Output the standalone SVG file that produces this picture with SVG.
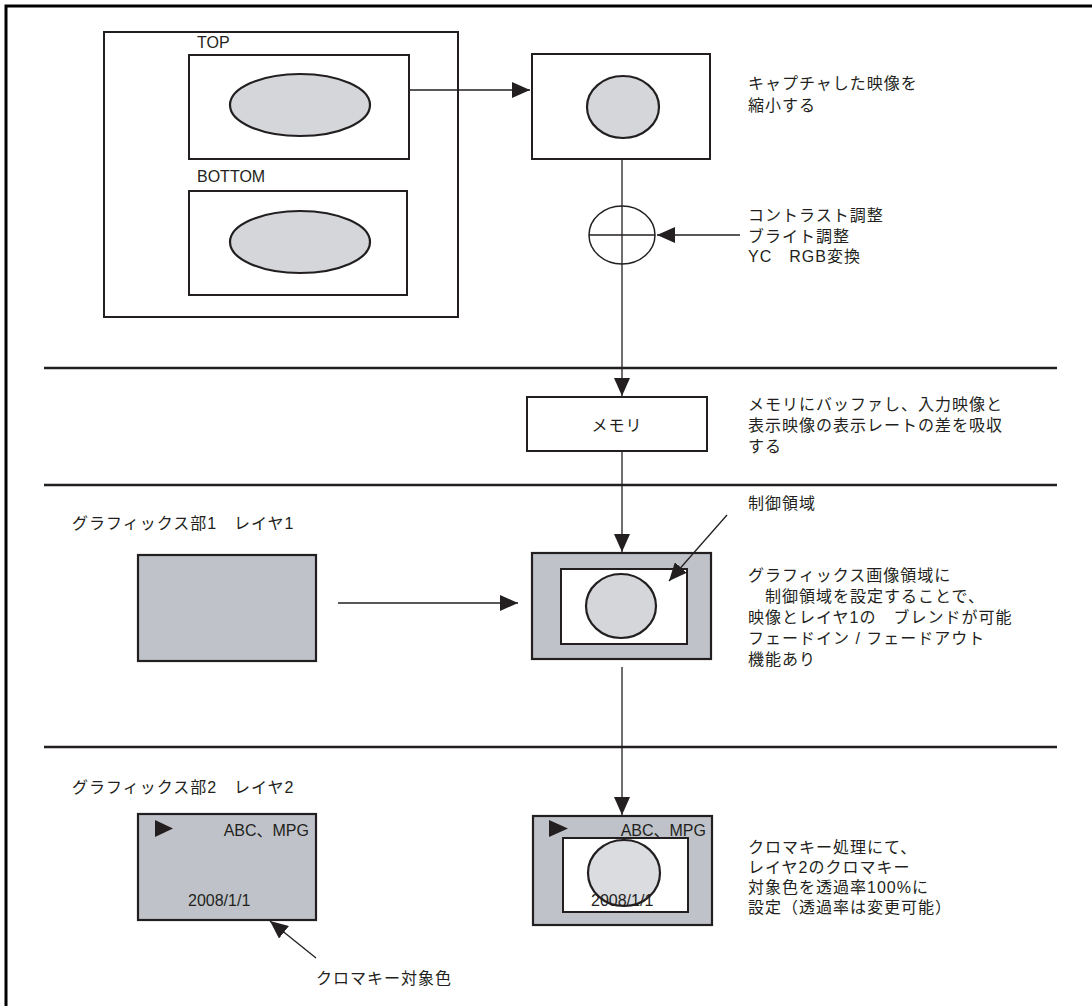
<svg xmlns="http://www.w3.org/2000/svg" width="1092" height="1006" viewBox="0 0 1092 1006">
<style>
text{font-family:"Liberation Sans","Noto Sans CJK JP",sans-serif;font-size:16px;fill:#231f20;letter-spacing:1px}
.lat{letter-spacing:0}
.box{fill:#fff;stroke:#231f20;stroke-width:2}
.gbox{fill:#bfc3c9;stroke:#231f20;stroke-width:2.2}
.ell{fill:#d4d6da;stroke:#231f20;stroke-width:2.2}
.sep{stroke:#231f20;stroke-width:2.5}
.con{fill:none;stroke:#231f20;stroke-width:1.3}
</style>
<defs>
<marker id="ah" viewBox="0 0 18 16" refX="18" refY="8" markerWidth="18" markerHeight="16" markerUnits="userSpaceOnUse" orient="auto">
<path d="M0,0 L18,8 L0,16 Z" fill="#231f20"/>
</marker>
</defs>
<rect width="1092" height="1006" fill="#fff"/>
<path d="M6,1006 V6 H1092" fill="none" stroke="#000" stroke-width="3"/>
<g id="separators">
<line class="sep" x1="44" y1="368" x2="1057" y2="368"/>
<line class="sep" x1="44" y1="485" x2="1057" y2="485"/>
<line class="sep" x1="44" y1="747" x2="1057" y2="747"/>
</g>
<g id="capture">
<rect class="box" x="104" y="32" width="354" height="285"/>
<text class="lat" x="197" y="48">TOP</text>
<rect class="box" x="189" y="55" width="220" height="104"/>
<ellipse class="ell" cx="300" cy="105" rx="70" ry="31"/>
<text class="lat" x="197" y="182">BOTTOM</text>
<rect class="box" x="189" y="191" width="218" height="104"/>
<ellipse class="ell" cx="300" cy="242" rx="70" ry="31"/>
</g>
<g id="scaled">
<rect class="box" x="532" y="54" width="178" height="105"/>
<ellipse class="ell" cx="623" cy="107" rx="36" ry="31"/>
</g>
<g id="adjust">
<ellipse cx="622" cy="235" rx="33" ry="29" fill="none" stroke="#231f20" stroke-width="1.5"/>
<line x1="589" y1="235" x2="655" y2="235" stroke="#231f20" stroke-width="1.3"/>
</g>
<g id="memory">
<rect class="box" x="527" y="397" width="180" height="54"/>
<text x="617" y="431" text-anchor="middle">メモリ</text>
</g>
<g id="layer1">
<rect class="gbox" x="138" y="555" width="178" height="106"/>
</g>
<g id="blend">
<rect class="gbox" x="532" y="553" width="179" height="106"/>
<rect class="box" x="561" y="569" width="126" height="75"/>
<ellipse class="ell" cx="621" cy="606" rx="35" ry="32"/>
</g>
<g id="layer2">
<rect class="gbox" x="138" y="814" width="178" height="106"/>
<path d="M155,820 L173,828.5 L155,837 Z" fill="#231f20"/>
<text class="lat" x="309" y="836" text-anchor="end">ABC、MPG</text>
<text class="lat" x="188" y="906">2008/1/1</text>
</g>
<g id="chroma">
<rect class="gbox" x="533" y="816" width="179" height="109"/>
<path d="M549,820 L568,828.5 L549,837 Z" fill="#231f20"/>
<text class="lat" x="706" y="836" text-anchor="end">ABC、MPG</text>
<rect class="box" x="563" y="838" width="125" height="74"/>
<ellipse class="ell" cx="624" cy="873" rx="36" ry="33" fill-opacity="0.85"/>
<text class="lat" x="591" y="906">2008/1/1</text>
</g>
<g id="connectors">
<line class="con" x1="409" y1="90" x2="530" y2="90" marker-end="url(#ah)"/>
<line class="con" x1="622" y1="159" x2="622" y2="396" marker-end="url(#ah)"/>
<line class="con" x1="740" y1="235" x2="657" y2="235" marker-end="url(#ah)"/>
<line class="con" x1="622" y1="451" x2="622" y2="552" marker-end="url(#ah)"/>
<line class="con" x1="338" y1="603" x2="518" y2="603" marker-end="url(#ah)"/>
<line class="con" x1="727" y1="515" x2="669" y2="581" marker-end="url(#ah)"/>
<line class="con" x1="622" y1="667" x2="622" y2="815" marker-end="url(#ah)"/>
<line class="con" x1="316" y1="958" x2="270" y2="921" marker-end="url(#ah)"/>
</g>
<g id="labels">
<text x="748" y="89">キャプチャした映像を</text>
<text x="748" y="111">縮小する</text>
<text x="748" y="221">コントラスト調整</text>
<text x="748" y="242">ブライト調整</text>
<text x="748" y="262">YC　RGB変換</text>
<text x="748" y="410">メモリにバッファし、入力映像と</text>
<text x="748" y="431">表示映像の表示レートの差を吸収</text>
<text x="748" y="452">する</text>
<text x="72" y="529">グラフィックス部1　レイヤ1</text>
<text x="748" y="509">制御領域</text>
<text x="748" y="581">グラフィックス画像領域に</text>
<text x="748" y="602">　制御領域を設定することで、</text>
<text x="748" y="623">映像とレイヤ1の　ブレンドが可能</text>
<text x="748" y="644">フェードイン / フェードアウト</text>
<text x="748" y="665">機能あり</text>
<text x="72" y="793">グラフィックス部2　レイヤ2</text>
<text x="748" y="853">クロマキー処理にて、</text>
<text x="748" y="873">レイヤ2のクロマキー</text>
<text x="748" y="893">対象色を透過率100%に</text>
<text x="748" y="913">設定（透過率は変更可能）</text>
<text x="316" y="984">クロマキー対象色</text>
</g>
</svg>
